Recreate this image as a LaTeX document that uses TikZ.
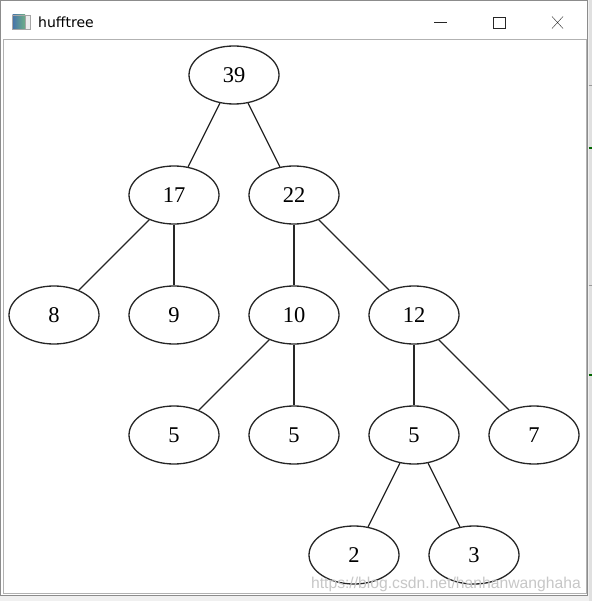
\documentclass[tikz,border=0pt]{standalone}
\usepackage{fontspec}
\setmainfont{Liberation Serif}
\newfontfamily\uifont{DejaVu Sans}
\newfontfamily\markfont{Liberation Sans}
\usetikzlibrary{positioning, shapes.geometric}
\definecolor{iconblue}{RGB}{70,115,170}
\definecolor{icongreen}{RGB}{110,175,135}

\begin{document}
\begin{tikzpicture}[x=1pt, y=-1pt, on grid, node distance=120pt and 60pt,
        hnode/.style={draw=black!85, line width=1.3pt, ellipse,
                      minimum width=90pt, minimum height=58pt, inner sep=0pt,
                      font=\fontsize{22.5}{22.5}\selectfont},
        edge/.style={draw=black!85, line width=1.3pt},
        frame/.style={draw=black!45, line width=1pt}]
      % window
      \useasboundingbox (0,0) rectangle (592,601);
      \fill[black!6] (0,0) rectangle (592,601);
      \fill[white] (0,0) rectangle (588,596);
      \draw[frame] (0.5,0.5) rectangle (587.5,595.5);
      \draw[frame, black!30] (3.5,39.5) rectangle (586,593.5);
      \fill[black!12] (588.5,0) rectangle (592,601);
      \foreach \yy in {85,285} \draw[black!40] (588.5,\yy) -- (592,\yy);
      \foreach \yy in {148,375} \draw[green!40!black, line width=1.5pt] (588.5,\yy) -- (592,\yy);
      % title bar
      \shade[left color=iconblue, right color=icongreen, draw=black!35]
        (12.5,15) rectangle (25,29);
      \fill[white!85!gray, draw=black!35] (25,15) rectangle (30,29);
      \node[anchor=base west, inner sep=0pt, font=\uifont\fontsize{14}{14}\selectfont]
        (title) at (38,28) {hufftree};
      \draw[black!85] (434,22.5) -- (447,22.5);
      \draw[black!85] (493.5,17.5) rectangle (505.5,28.5);
      \draw[black!85] (552,16.5) -- (563,28.5) (552,28.5) -- (563,16.5);
      % tree
      \node[hnode] (n39) at (234,75) {39};
      \node[hnode, below left=of n39] (n17) {17};
      \node[hnode, below right=of n39] (n22) {22};
      \node[hnode, below left=120pt and 120pt of n17] (n8) {8};
      \node[hnode, below=of n17] (n9) {9};
      \node[hnode, below=of n22] (n10) {10};
      \node[hnode, below right=120pt and 120pt of n22] (n12) {12};
      \node[hnode, below left=120pt and 120pt of n10] (n5a) {5};
      \node[hnode, below=of n10] (n5b) {5};
      \node[hnode, below=of n12] (n5c) {5};
      \node[hnode, below right=120pt and 120pt of n12] (n7) {7};
      \node[hnode, below left=of n5c] (n2) {2};
      \node[hnode, below right=of n5c] (n3) {3};
      \foreach \from/\to in {n39/n17, n39/n22, n17/n8, n17/n9, n22/n10, n22/n12,
                             n10/n5a, n10/n5b, n12/n5c, n12/n7, n5c/n2, n5c/n3}
        \draw[edge] (\from) -- (\to);
      % watermark
      \node[anchor=base east, inner sep=0pt, text=black!22,
            font=\markfont\fontsize{15.7}{15.7}\selectfont]
        (mark) at (581,588) {https://blog.csdn.net/hanhanwanghaha};
    \end{tikzpicture}
\end{document}
